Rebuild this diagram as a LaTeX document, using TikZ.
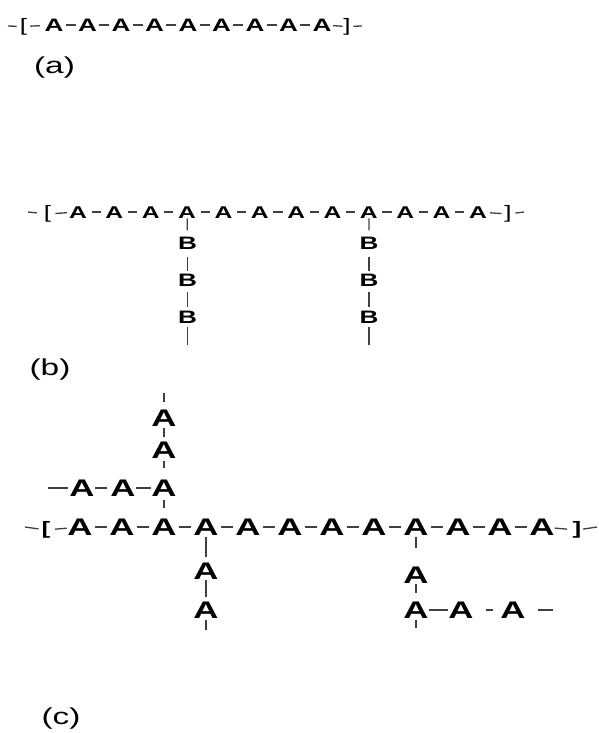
\documentclass[tikz,border=0pt]{standalone}
\usepackage{fontspec}
\setmainfont{Liberation Sans}[FakeStretch=1.45]
\begin{document}
\begin{tikzpicture}[x=1pt,y=-1pt,
  ua/.style={font=\bfseries\fontsize{18}{18}\selectfont, inner sep=0pt, text height=12.9pt, text depth=0pt},
  ub/.style={font=\bfseries\fontsize{17}{17}\selectfont, inner sep=0pt, text height=12.2pt, text depth=0pt},
  bb/.style={font=\bfseries\fontsize{18}{18}\selectfont, inner sep=0pt, text height=12.9pt, text depth=0pt},
  uc/.style={font=\bfseries\fontsize{24}{24}\selectfont, inner sep=0pt, text height=17.2pt, text depth=0pt},
  brk/.style={font=\fontsize{18}{18}\selectfont, inner sep=0pt},
  brkc/.style={font=\bfseries\fontsize{18}{18}\selectfont, inner sep=0pt},
  lab/.style={font=\fontsize{23}{23}\selectfont, inner sep=0pt},
  bond/.style={line width=1.3pt, draw=black!75},
  hb/.style={bond, shorten <=#1, shorten >=#1},
  hb/.default=2.5pt
]
\fill[white] (0,0) rectangle (598,733);
\useasboundingbox (0,0) rectangle (598,733);

% ---------------- (a) ----------------
\coordinate (aL) at (8,26);
\node[brk] (aLb) at (23.5,26.5) {[};
\foreach \i in {1,...,9} \node[ua] (a\i) at ({54+33.5*(\i-1)},25) {A};
\node[brk] (aRb) at (347,26.5) {]};
\coordinate (aR) at (362,26);
\draw[bond, shorten >=3pt] (aL) -- (aLb);
\draw[bond, shorten <=3pt, shorten >=4.6pt] (aLb) -- (a1);
\foreach \i [evaluate=\i as \j using int(\i+1)] in {1,...,8} \draw[hb=2.3pt] (a\i) -- (a\j);
\draw[bond, shorten <=1.5pt, shorten >=0.5pt] (a9) -- (aRb);
\draw[bond, shorten <=2.5pt] (aRb) -- (aR);
\node[lab] (la) at (54.5,67.5) {(a)};

% ---------------- (b) ----------------
\coordinate (bL) at (28,212);
\node[brk] (bLb) at (47.5,214) {[};
\foreach \i in {1,...,12} \node[ub] (b\i) at ({78+36.36*(\i-1)},212) {A};
\node[brk] (bRb) at (508,214) {]};
\coordinate (bR) at (524,212);
\draw[bond, shorten >=7pt] (bL) -- (bLb);
\draw[bond, shorten <=4pt, shorten >=2pt] (bLb) -- (b1);
\foreach \i [evaluate=\i as \j using int(\i+1)] in {1,...,11} \draw[hb=4.5pt] (b\i) -- (b\j);
\draw[bond, shorten <=3pt, shorten >=2.5pt] (b12) -- (bRb);
\draw[bond, shorten <=3.5pt] (bRb) -- (bR);
% branches
\foreach \k/\x in {4/187.5, 9/369} {
  \node[bb] (bx\k a) at (\x,243) {B};
  \node[bb] (bx\k b) at (\x,280) {B};
  \node[bb] (bx\k c) at (\x,317) {B};
  \coordinate (bx\k e) at (\x,345);
  \draw[bond, shorten <=0pt, shorten >=6pt] (b\k) -- (bx\k a);
  \draw[bond, shorten <=7pt, shorten >=2.5pt] (bx\k a) -- (bx\k b);
  \draw[bond, shorten <=5pt, shorten >=3.5pt] (bx\k b) -- (bx\k c);
  \draw[bond, shorten <=3.5pt] (bx\k c) -- (bx\k e);
}
\node[lab] (lb) at (50,370) {(b)};

% ---------------- (c) ----------------
\coordinate (cL) at (25,527);
\node[brkc] (cLb) at (46,530) {[};
\foreach \i in {1,...,12} \node[uc] (c\i) at ({80+42*(\i-1)},527) {A};
\node[brkc] (cRb) at (577,530) {]};
\coordinate (cR) at (597,527);
\draw[bond, shorten >=3pt] (cL) -- (cLb);
\draw[bond, shorten <=4.5pt, shorten >=0.5pt] (cLb) -- (c1);
\foreach \i [evaluate=\i as \j using int(\i+1)] in {1,...,11} \draw[hb] (c\i) -- (c\j);
\draw[bond, shorten <=0pt, shorten >=5.5pt] (c12) -- (cRb);
\draw[bond, shorten <=1.6pt] (cRb) -- (cR);

% upper branch from c3
\node[uc] (u1) at (82,488) {A};
\node[uc] (u2) at (123,488) {A};
\node[uc] (u3) at (164,488) {A};
\node[uc] (t2) at (164,450) {A};
\node[uc] (t1) at (164,418) {A};
\coordinate (uL) at (48,488);
\coordinate (tT) at (164,393);
\draw[bond, shorten >=1.5pt] (uL) -- (u1);
\draw[bond, shorten <=0pt, shorten >=3.5pt] (u1) -- (u2);
\draw[bond, shorten <=0pt, shorten >=0pt] (u2) -- (u3);
\draw[bond, shorten <=3.5pt, shorten >=10.5pt] (u3) -- (c3);
\draw[bond, shorten <=2pt, shorten >=11pt] (t2) -- (u3);
\draw[bond, shorten <=1.5pt, shorten >=4.5pt] (t1) -- (t2);
\draw[bond, shorten >=7pt] (tT) -- (t1);

% lower branch from c4
\node[uc] (d1) at (206,571) {A};
\node[uc] (d2) at (206,610) {A};
\coordinate (dE) at (206,630);
\draw[bond, shorten <=1.5pt, shorten >=5.5pt] (c4) -- (d1);
\draw[bond, shorten <=0.5pt, shorten >=4.5pt] (d1) -- (d2);
\draw[bond, shorten <=1.5pt] (d2) -- (dE);

% lower branch from c9
\node[uc] (r1) at (416,575) {A};
\node[uc] (r2) at (416,610) {A};
\node[uc] (r3) at (461,610) {A};
\node[uc] (r4) at (513,610) {A};
\coordinate (rE) at (416,628);
\coordinate (rR) at (553,610);
\draw[bond, shorten <=1.5pt, shorten >=18pt] (c9) -- (r1);
\draw[bond, shorten <=0pt, shorten >=8pt] (r1) -- (r2);
\draw[bond, shorten <=1.5pt] (r2) -- (rE);
\draw[bond, shorten <=0pt, shorten >=0pt] (r2) -- (r3);
\draw[bond, shorten <=12pt, shorten >=7pt] (r3) -- (r4);
\draw[bond, shorten <=12pt] (r4) -- (rR);

\node[lab] (lc) at (61,719) {(c)};
\end{tikzpicture}
\end{document}
